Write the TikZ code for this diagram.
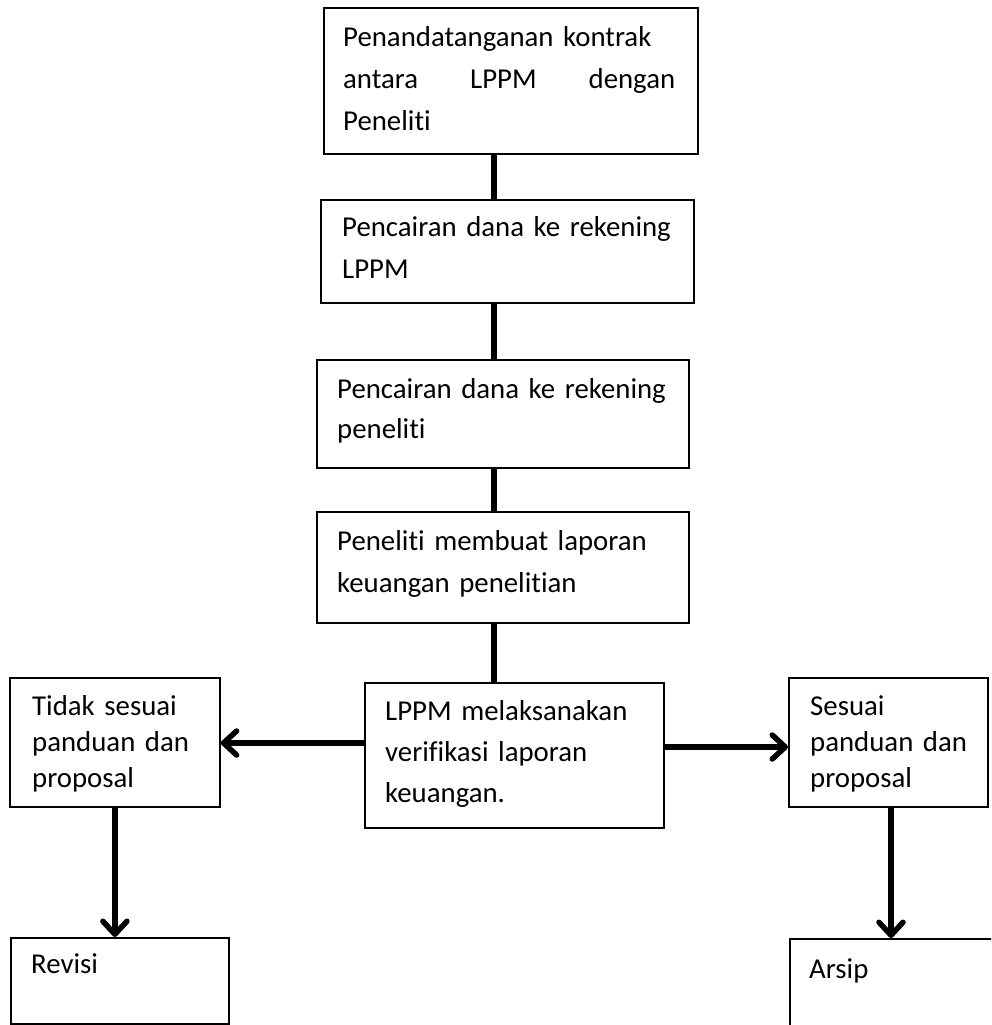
\documentclass[tikz,border=0pt]{standalone}
\usepackage{fontspec}
\setmainfont{Carlito}[RawFeature={-liga;-clig;-calt;-dlig}]
\usetikzlibrary{arrows.meta}

\tikzset{
  box/.style={draw=black, line width=1.8pt, rectangle, anchor=north west,
    inner sep=0pt, minimum width=#1},
  label text/.style={anchor=base west, inner sep=0pt, align=left,
    text width=#1},
  link/.style={line width=5.5pt},
  flow/.style={line width=5.5pt,
    -{Straight Barb[length=13pt,width=24pt,round]}},
}
\newcommand{\wide}{\fontsize{28.8}{42}\selectfont}
\newcommand{\narrow}{\fontsize{28.8}{36}\selectfont}

\begin{document}
\begin{tikzpicture}[x=1pt,y=-1pt]
  \useasboundingbox (0,0) rectangle (991,1025);
  \clip (0,0) rectangle (991,1025);

  % main column of steps
  \node[box=374pt, minimum height=146pt] (b1) at (323,7) {};
  \node[box=373pt, minimum height=103pt] (b2) at (320,199) {};
  \node[box=372pt, minimum height=108pt] (b3) at (316,359) {};
  \node[box=372pt, minimum height=111pt] (b4) at (316,511) {};
  \node[box=299pt, minimum height=145pt] (b5) at (364,682) {};

  % outcome boxes
  \node[box=210pt, minimum height=129pt] (bl) at (9,677) {};
  \node[box=199pt, minimum height=129pt] (br) at (788,677) {};
  \node[box=218pt, minimum height=86pt] (brev) at (10,937) {};
  \node[box=230pt, minimum height=110pt] (barsip) at (789,938) {};

  % texts
  \node[label text=332pt, font=\wide] (t1) at (343,47)
    {Penandatanganan kontrak\\
     \makebox[\linewidth]{antara\hfill LPPM\hfill dengan}\\
     Peneliti};
  \node[label text=345pt, font=\wide] (t2) at (342,236)
    {Pencairan dana ke rekening\\LPPM};
  \node[label text=345pt, font=\fontsize{28.8}{40}\selectfont] (t3) at (337,398)
    {Pencairan dana ke rekening\\peneliti};
  \node[label text=345pt, font=\wide] (t4) at (337,550)
    {Peneliti membuat laporan\\keuangan penelitian};
  \node[label text=275pt, font=\fontsize{28.8}{41}\selectfont] (t5) at (385,720)
    {LPPM melaksanakan\\verifikasi laporan\\keuangan.};
  \node[label text=185pt, font=\narrow] (tl) at (32,715)
    {Tidak sesuai\\panduan dan\\proposal};
  \node[label text=180pt, font=\narrow] (tr) at (810,715)
    {Sesuai\\panduan dan\\proposal};
  \node[label text=180pt, font=\wide] (trev) at (31,973) {Revisi};
  \node[label text=160pt, font=\wide] (tarsip) at (809,978) {Arsip};

  % connector guides
  \coordinate (spine) at (494,0);
  \coordinate (armL) at (0,743);
  \coordinate (armR) at (0,747);
  \coordinate (dropR) at (891,0);

  % connectors
  \draw[link] (b1.south -| spine) -- (b2.north -| spine);
  \draw[link] (b2.south -| spine) -- (b3.north -| spine);
  \draw[link] (b3.south -| spine) -- (b4.north -| spine);
  \draw[link] (b4.south -| spine) -- (b5.north -| spine);
  \draw[flow] (b5.west |- armL) -- (bl.east |- armL);
  \draw[flow] (b5.east |- armR) -- (br.west |- armR);
  \draw[flow] (bl.south) -- (bl.south |- brev.north);
  \draw[flow] (br.south -| dropR) -- (barsip.north -| dropR);
\end{tikzpicture}
\end{document}
